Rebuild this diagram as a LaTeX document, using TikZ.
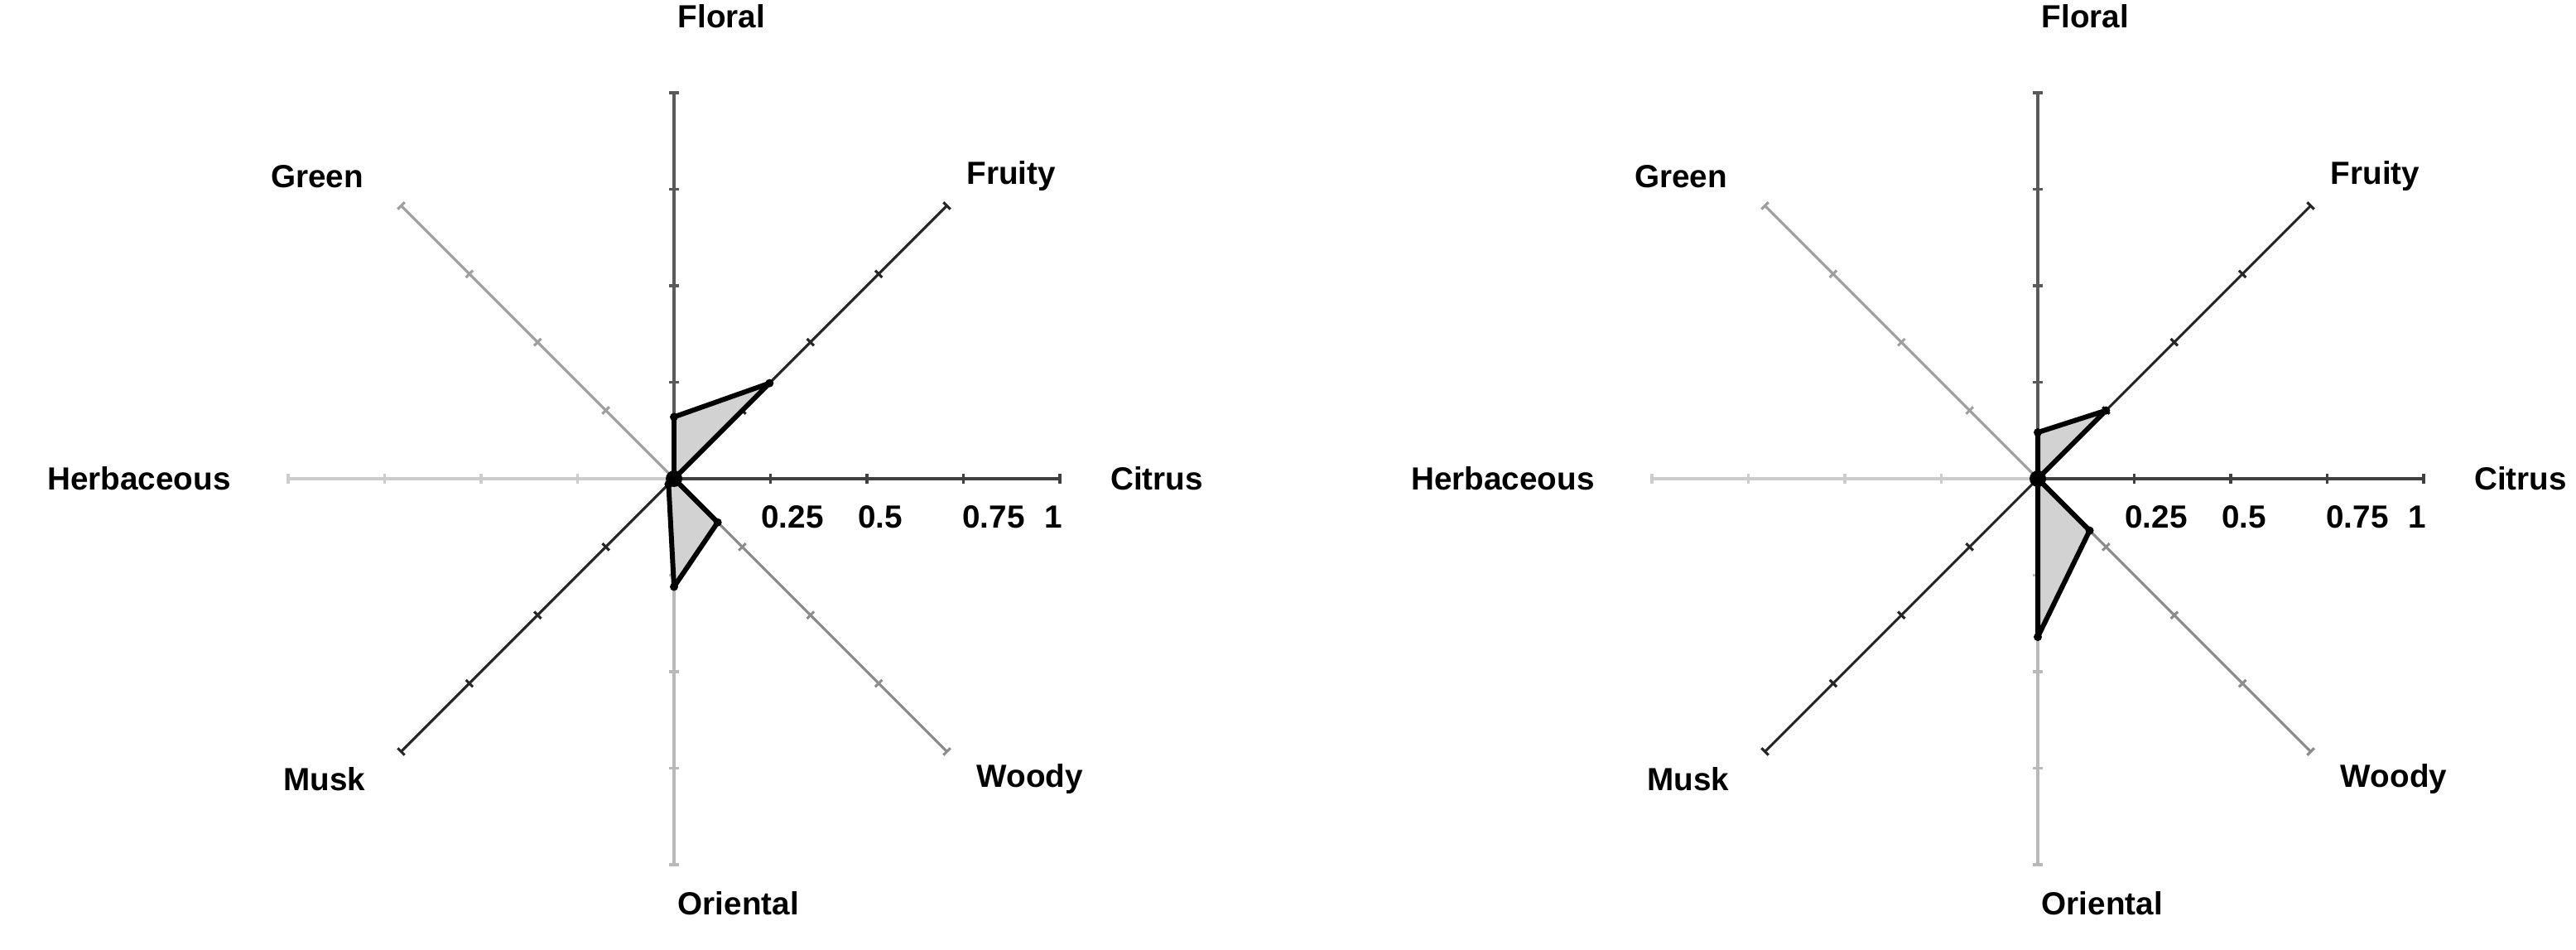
\documentclass[tikz,border=0pt]{standalone}
\usepackage{fontspec}
\setmainfont{Liberation Sans}
\usepackage{tikz}
\usetikzlibrary{positioning}

\begin{document}
\begin{tikzpicture}[x=1cm, y=1cm,
    lbl/.style={font=\fontsize{11}{13}\selectfont\bfseries, inner sep=0pt},
    axisline/.style={line width=0.9pt},
    profile/.style={fill=gray!35, draw=black, line width=1.7pt, line join=round}]

\useasboundingbox (0,0) rectangle (31.11,11.47);

% Deux profils olfactifs
\foreach \cx/\pref/\vF/\vFr/\vC/\vW/\vO/\vM/\vH/\vG in {8.14/L/0.16/0.35/0/0.16/0.28/0.02/0.01/0, 24.61/R/0.12/0.25/0/0.19/0.41/0/0/0} {
\begin{scope}[shift={(\cx,5.69)}]

    % Axes et graduations
    \foreach \ang/\col in {90/gray!70!black, 45/black!85, 0/black!75, -45/gray!90, -90/gray!55, -135/black!85, 180/gray!40, 135/gray!75} {
        \draw[axisline, \col] (0,0) -- (\ang:4.66);
        \foreach \t in {1,...,4}
            \draw[axisline, \col] (\ang:{\t*1.165}) ++({\ang+90}:0.06) -- ++({\ang-90}:0.12);
    }

    % Profil
    \draw[profile] (90:{\vF*4.66}) -- (45:{\vFr*4.66}) -- (0:{\vC*4.66}) -- (-45:{\vW*4.66})
        -- (-90:{\vO*4.66}) -- (-135:{\vM*4.66}) -- (180:{\vH*4.66}) -- (135:{\vG*4.66}) -- cycle;
    \foreach \a/\v in {90/\vF, 45/\vFr, 0/\vC, -45/\vW, -90/\vO, -135/\vM, 180/\vH, 135/\vG}
        \fill (\a:{\v*4.66}) circle (0.05);
    \fill (0,0) circle (0.1);

    % Noms des axes
    \node[lbl, anchor=west] (\pref-floral) at (0.04,5.58) {Floral};
    \node[lbl, anchor=west] (\pref-fruity) at (3.53,3.65) {Fruity};
    \node[lbl] (\pref-green) at (-4.31,3.65) {Green};
    \node[lbl] (\pref-herb) at (-6.46,0) {Herbaceous};
    \node[lbl] (\pref-citrus) at (5.83,0) {Citrus};
    \node[lbl] (\pref-musk) at (-4.22,-3.63) {Musk};
    \node[lbl] (\pref-woody) at (4.30,-3.63) {Woody};
    \node[lbl, anchor=west] (\pref-oriental) at (0.04,-5.13) {Oriental};

    % Echelle
    \foreach \x/\s/\nm in {1.43/0.25/a, 2.49/0.5/b, 3.86/0.75/c, 4.58/1/d}
        \node[lbl] (\pref-scale-\nm) at (\x,-0.46) {\s};

\end{scope}
}

\end{tikzpicture}
\end{document}
